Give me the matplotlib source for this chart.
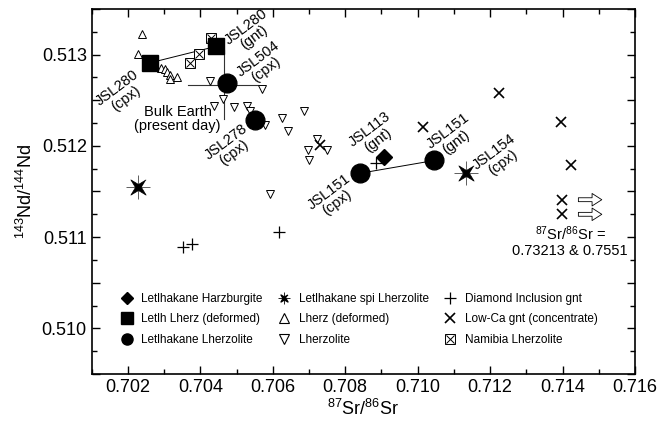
import matplotlib
matplotlib.use("Agg")
import matplotlib.pyplot as plt
import numpy as np
from matplotlib.lines import Line2D
from matplotlib.path import Path
from matplotlib.ticker import MultipleLocator, FuncFormatter

plt.rcParams["font.family"] = ["Liberation Sans", "DejaVu Sans"]
plt.rcParams["mathtext.fontset"] = "custom"
plt.rcParams["mathtext.rm"] = "Liberation Sans"
plt.rcParams["mathtext.it"] = "Liberation Sans:italic"
plt.rcParams["mathtext.bf"] = "Liberation Sans:bold"

# data (87Sr/86Sr, 143Nd/144Nd)
harz_x = [0.70907]
harz_y = [0.51188]
letlh_def_x = [0.70261, 0.70443]
letlh_def_y = [0.51291, 0.51309]
letl_lherz_x = [0.70473, 0.70551, 0.70841, 0.71046]
letl_lherz_y = [0.51269, 0.51228, 0.51170, 0.51184]
spi_x = [0.70229, 0.71134]
spi_y = [0.51155, 0.51170]
lherz_def_x = [0.70238, 0.70227, 0.70291, 0.70302, 0.70309, 0.70316, 0.70336, 0.70316]
lherz_def_y = [0.51323, 0.51301, 0.51285, 0.51284, 0.51281, 0.51278, 0.51276, 0.51273]
lherz_x = [0.70427, 0.70570, 0.70462, 0.70438, 0.70493, 0.70528, 0.70537, 0.70579,
           0.70625, 0.70643, 0.70685, 0.70698, 0.70701, 0.70722, 0.70749, 0.70591]
lherz_y = [0.51271, 0.51262, 0.51251, 0.51244, 0.51243, 0.51244, 0.51238, 0.51223,
           0.51231, 0.51216, 0.51238, 0.51195, 0.51185, 0.51207, 0.51195, 0.51147]
dia_x = [0.70353, 0.70378, 0.70617, 0.70885]
dia_y = [0.51089, 0.51092, 0.51106, 0.51181]
lowca_x = [0.70729, 0.71016, 0.71225, 0.71396, 0.71423, 0.71398, 0.71398]
lowca_y = [0.51201, 0.51221, 0.51258, 0.51226, 0.51179, 0.51141, 0.51125]
nam_x = [0.70372, 0.70397, 0.70429]
nam_y = [0.51291, 0.51301, 0.51318]

# bulk earth (present day) cross
be_x, be_y = 0.70466, 0.51267
be_xrange = (0.70366, 0.70560)
be_yrange = (0.51229, 0.51305)

# sample labels: text, x, y
labels = [
    ("JSL280\n(cpx)", 0.70182, 0.51258),
    ("JSL280\n(gnt)", 0.70537, 0.51325),
    ("JSL504\n(cpx)", 0.70570, 0.51289),
    ("JSL278\n(cpx)", 0.70482, 0.51198),
    ("JSL113\n(gnt)", 0.70878, 0.51212),
    ("JSL151\n(cpx)", 0.70767, 0.51144),
    ("JSL151\n(gnt)", 0.71094, 0.51210),
    ("JSL154\n(cpx)", 0.71223, 0.51188),
]
off_scale_y = [0.51141, 0.51125]
arrow_x = (0.71436, 0.71516)

# thin four-armed star for the spinel lherzolites
ang = np.deg2rad(np.arange(8) * 45 + 45)
rad = np.where(np.arange(8) % 2 == 0, 1.0, 0.28)
star4 = Path(np.column_stack([rad * np.cos(ang), rad * np.sin(ang)]), closed=False)

fig = plt.figure(figsize=(6.6, 4.23), dpi=100)
ax = fig.add_axes([91.7 / 660, 1 - 374 / 423, (635 - 91.7) / 660, (374 - 9) / 423])

# tie lines
ax.plot(letlh_def_x, letlh_def_y, color="black", lw=0.7, zorder=2)
ax.plot(letl_lherz_x[2:], letl_lherz_y[2:], color="black", lw=0.7, zorder=2)
ax.plot(be_xrange, [be_y, be_y], color="#333333", lw=0.8, zorder=1)
ax.plot([be_x, be_x], be_yrange, color="#333333", lw=0.8, zorder=1)

k = dict(linestyle="none", color="black")
ax.plot(lherz_def_x, lherz_def_y, marker="^", ms=5.5, mfc="white", mew=0.7, zorder=3, **k)
ax.plot(lherz_x, lherz_y, marker="v", ms=5.5, mfc="white", mew=0.7, zorder=3, **k)
ax.plot(dia_x, dia_y, marker="+", ms=8, mew=0.9, zorder=3, **k)
ax.plot(lowca_x, lowca_y, marker="x", ms=6.5, mew=1.2, zorder=3, **k)
ax.plot(nam_x, nam_y, marker="s", ms=7, mfc="white", mew=0.7, zorder=3, **k)
ax.plot(nam_x, nam_y, marker="x", ms=6, mew=0.7, zorder=3, **k)
ax.plot(letlh_def_x, letlh_def_y, marker="s", ms=12, zorder=4, **k)
ax.plot(letl_lherz_x, letl_lherz_y, marker="o", ms=13.5, zorder=4, **k)
ax.plot(harz_x, harz_y, marker="D", ms=8.5, zorder=4, **k)
ax.plot(spi_x, spi_y, marker="+", ms=17, mew=0.6, color="#444444", linestyle="none", zorder=4)
ax.plot(spi_x, spi_y, marker=star4, ms=11, mew=0.5, zorder=5, **k)

for txt, x, y in labels:
    ax.text(x, y, txt, fontsize=10.5, rotation=37, ha="center", va="center",
            multialignment="center", rotation_mode="anchor", linespacing=0.95)
ax.text(0.70337, 0.51230, "Bulk Earth\n(present day)", fontsize=10.5, ha="center",
        va="center", multialignment="center", linespacing=1.0)
ax.text(0.71421, 0.51096, "$^{87}$Sr/$^{86}$Sr =\n0.73213 & 0.7551", fontsize=10.5,
        ha="center", va="center", multialignment="center", linespacing=1.1)

for y in off_scale_y:
    ax.annotate("", xy=(arrow_x[1], y), xytext=(arrow_x[0], y),
                arrowprops=dict(arrowstyle="simple,head_length=0.7,head_width=0.9,tail_width=0.28",
                                fc="white", ec="black", lw=0.6))

ax.set_xlim(0.701, 0.716)
ax.set_ylim(0.5095, 0.5135)
ax.xaxis.set_major_locator(MultipleLocator(0.002))
ax.xaxis.set_minor_locator(MultipleLocator(0.001))
ax.yaxis.set_major_locator(MultipleLocator(0.0005))
ax.yaxis.set_minor_locator(MultipleLocator(0.00025))
ax.xaxis.set_major_formatter(FuncFormatter(lambda v, p: f"{v:.3f}"))
ax.yaxis.set_major_formatter(
    FuncFormatter(lambda v, p: f"{v:.3f}" if abs(v * 1000 - round(v * 1000)) < 1e-6 else ""))
ax.tick_params(which="both", direction="in", top=True, right=True, labelsize=13, width=1.0)
ax.tick_params(which="major", length=6)
ax.tick_params(which="minor", length=3.5)
for s in ax.spines.values():
    s.set_linewidth(1.2)

ax.set_xlabel("$^{87}$Sr/$^{86}$Sr", fontsize=13, labelpad=2)
ax.set_ylabel("$^{143}$Nd/$^{144}$Nd", fontsize=13, labelpad=4)

# legend
nam_h = (Line2D([], [], marker="s", ms=7, mfc="white", mew=0.7, **k),
         Line2D([], [], marker="x", ms=6, mew=0.7, **k))
spi_h = (Line2D([], [], marker="+", ms=8, mew=0.6, color="black", linestyle="none"),
         Line2D([], [], marker=star4, ms=5, **k))
handles = [
    Line2D([], [], marker="D", ms=6, **k),
    Line2D([], [], marker="s", ms=8, **k),
    Line2D([], [], marker="o", ms=8, **k),
    spi_h,
    Line2D([], [], marker="^", ms=6.5, mfc="white", mew=0.8, **k),
    Line2D([], [], marker="v", ms=6.5, mfc="white", mew=0.8, **k),
    Line2D([], [], marker="+", ms=9, mew=0.9, **k),
    Line2D([], [], marker="x", ms=7, mew=1.2, **k),
    nam_h,
]
names = ["Letlhakane Harzburgite", "Letlh Lherz (deformed)", "Letlhakane Lherzolite",
         "Letlhakane spi Lherzolite", "Lherz (deformed)", "Lherzolite",
         "Diamond Inclusion gnt", "Low-Ca gnt (concentrate)", "Namibia Lherzolite"]
ax.legend(handles, names, ncol=3, loc="upper left", bbox_to_anchor=(114 / 660, 1 - 287 / 423),
          bbox_transform=fig.transFigure, frameon=False, fontsize=8.5, handlelength=1.2,
          handletextpad=0.6, columnspacing=1.25, labelspacing=0.72, borderpad=0)

fig.savefig("out.png", dpi=100)
